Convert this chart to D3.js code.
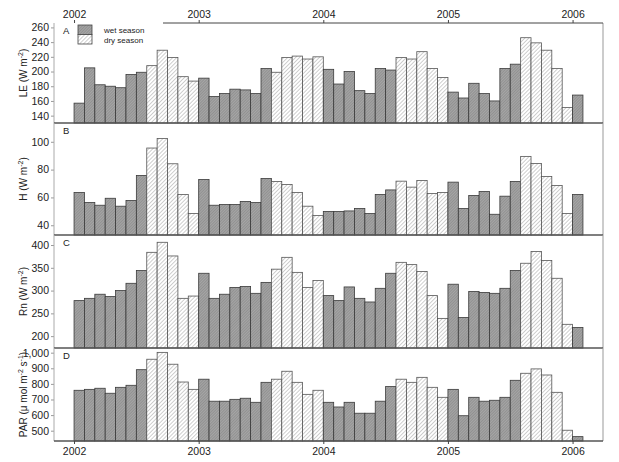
<!DOCTYPE html>
<html><head><meta charset="utf-8">
<script src="https://cdn.jsdelivr.net/npm/d3@7"></script>
<style>body{margin:0;background:#fff}svg{display:block;font-family:"Liberation Sans",Arial,sans-serif}</style>
</head><body><svg id="c" width="619" height="462"></svg>
<script>
// months Jan 2002 .. Jan 2006 (49 months); wet = Jan-Jul, dry = Aug-Dec
const years = [2002, 2003, 2004, 2005, 2006];
const LE = [157,205,182,180,178,196,199,208,229,219,193,187,
  191,166,170,176,175,170,204,199,219,221,217,220,
  203,183,200,174,170,204,202,219,217,227,204,192,
  172,164,184,170,160,204,210,246,239,229,204,151,
  168];
const H = [63.5,56.3,54.4,59.4,53.7,57.8,75.8,95.5,102.4,84.2,62.1,48.4,
  72.9,54.4,54.9,54.9,57.1,56.3,73.6,71.5,69.3,63.5,53.7,47,
  49.9,49.9,50.3,52,48.4,62.1,65.4,71.7,67.4,72.2,62.8,63.5,
  71,52,61.4,64.3,47.9,60.9,71.5,89.5,84.4,75.1,68.6,48.4,
  62.1];
const Rn = [278,283,292,287,300,316,344,384,406,376,283,288,
  338,283,292,307,309,294,318,347,373,340,307,322,
  289,278,308,283,275,305,338,362,357,342,289,239,
  314,241,298,296,294,305,344,360,386,366,327,226,
  219];
const PAR = [759,765,772,740,778,791,891,958,1002,926,812,765,
  830,689,689,701,708,682,810,830,881,810,733,759,
  682,652,682,612,612,689,783,830,810,842,778,714,
  765,596,714,689,695,714,823,868,896,857,746,503,
  462];
const seasonLabels = ["wet season", "dry season"];
const panelLetters = ["A", "B", "C", "D"];
const panelTitles = [
  ["LE (W m", "-2", ")"],
  ["H (W m", "-2", ")"],
  ["Rn (W m", "-2", ")"],
  ["PAR (\u03bc mol m", "-2", " s", "-1", ")"]
];
const panelTicks = [
  [140,160,180,200,220,240,260],
  [40,60,80,100],
  [200,250,300,350,400],
  [500,600,700,800,900,1000]
];
const panelDomains = [[130,266],[33,113.5],[174,422],[434,1030]];
const series = [LE, H, Rn, PAR];

const svg = d3.select("#c");
const defs = svg.append("defs");
function hatch(id, bg, line, sp, w) {
  const p = defs.append("pattern").attr("id", id).attr("patternUnits", "userSpaceOnUse")
    .attr("width", sp).attr("height", sp).attr("patternTransform", "rotate(45)");
  p.append("rect").attr("width", sp).attr("height", sp).attr("fill", bg);
  p.append("line").attr("x1", 0).attr("y1", 0).attr("x2", 0).attr("y2", sp)
    .attr("stroke", line).attr("stroke-width", w);
}
hatch("wet", "#a6a6a6", "#6a6a6a", 2.0, 0.7);
hatch("dry", "#ffffff", "#858585", 2.8, 0.8);

const L = 54, R = 603;
const x = d3.scaleLinear().domain([-1.93, 50.93]).range([L, R]);
const panels = [[23,123],[123,235],[235,348],[348,441]];
const isWet = i => (i % 12) < 7;

panels.forEach(([top, bot], k) => {
  const y = d3.scaleLinear().domain(panelDomains[k]).range([bot, top]);
  const g = svg.append("g");
  g.selectAll("rect.bar").data(series[k]).join("rect")
    .attr("x", (d, i) => x(i)).attr("width", x(1) - x(0))
    .attr("y", d => y(d)).attr("height", d => bot - y(d))
    .attr("fill", (d, i) => isWet(i) ? "url(#wet)" : "url(#dry)")
    .attr("stroke", (d, i) => isWet(i) ? "#3a3a3a" : "#555")
    .attr("stroke-width", 0.8);
  // y axis
  const ax = svg.append("g").attr("transform", `translate(${L},0)`)
    .call(d3.axisLeft(y).tickValues(panelTicks[k]).tickSize(3).tickPadding(2));
  ax.select(".domain").remove();
  ax.selectAll("line").attr("stroke", "#999");
  ax.selectAll("text").attr("font-size", 10.5).attr("fill", "#222");
  svg.append("line").attr("x1", L).attr("x2", L).attr("y1", top).attr("y2", bot)
    .attr("stroke", "#aaa").attr("stroke-width", 1);
  svg.append("line").attr("x1", R).attr("x2", R).attr("y1", top).attr("y2", bot)
    .attr("stroke", "#999").attr("stroke-width", 1);
  // bottom separator
  svg.append("line").attr("x1", L).attr("x2", R).attr("y1", bot).attr("y2", bot)
    .attr("stroke", "#555").attr("stroke-width", 1.6);
  // letter
  svg.append("text").attr("x", 63).attr("y", top + 11).attr("font-size", 9.5)
    .attr("fill", "#222").text(panelLetters[k]);
  // title
  const t = svg.append("text").attr("transform", `translate(27,${(top + bot) / 2}) rotate(-90)`)
    .attr("text-anchor", "middle").attr("font-size", 10).attr("fill", "#222");
  panelTitles[k].forEach((s, j) => {
    const sup = j % 2 === 1;
    t.append("tspan").attr("dy", j === 0 ? 0 : (sup ? -4 : 4))
      .attr("font-size", sup ? 7 : 10).text(s);
  });
});

// top axis
svg.append("line").attr("x1", 163).attr("x2", R).attr("y1", 23).attr("y2", 23)
  .attr("stroke", "#444").attr("stroke-width", 1);
const yrTicks = years.map((yr, i) => i * 12);
const topAx = svg.append("g").attr("transform", "translate(0,23)")
  .call(d3.axisTop(x).tickValues(yrTicks).tickSize(3).tickPadding(2).tickFormat((d, i) => years[i]));
topAx.select(".domain").remove();
topAx.selectAll("line").attr("stroke", "#444");
topAx.selectAll("text").attr("font-size", 10.5).attr("fill", "#222");
const botAx = svg.append("g").attr("transform", "translate(0,441)")
  .call(d3.axisBottom(x).tickValues(yrTicks).tickSize(3).tickPadding(4).tickFormat((d, i) => years[i]));
botAx.select(".domain").remove();
botAx.selectAll("line").attr("stroke", "#444");
botAx.selectAll("text").attr("font-size", 10.5).attr("fill", "#222");

// legend
const lg = svg.append("g");
seasonLabels.forEach((s, i) => {
  lg.append("rect").attr("x", 78).attr("y", 25 + i * 9.5).attr("width", 14).attr("height", 9.5)
    .attr("fill", i === 0 ? "url(#wet)" : "url(#dry)").attr("stroke", "#444").attr("stroke-width", 0.8);
  lg.append("text").attr("x", 104).attr("y", 33 + i * 9.5).attr("font-size", 8)
    .attr("fill", "#222").text(s);
});
</script></body></html>
